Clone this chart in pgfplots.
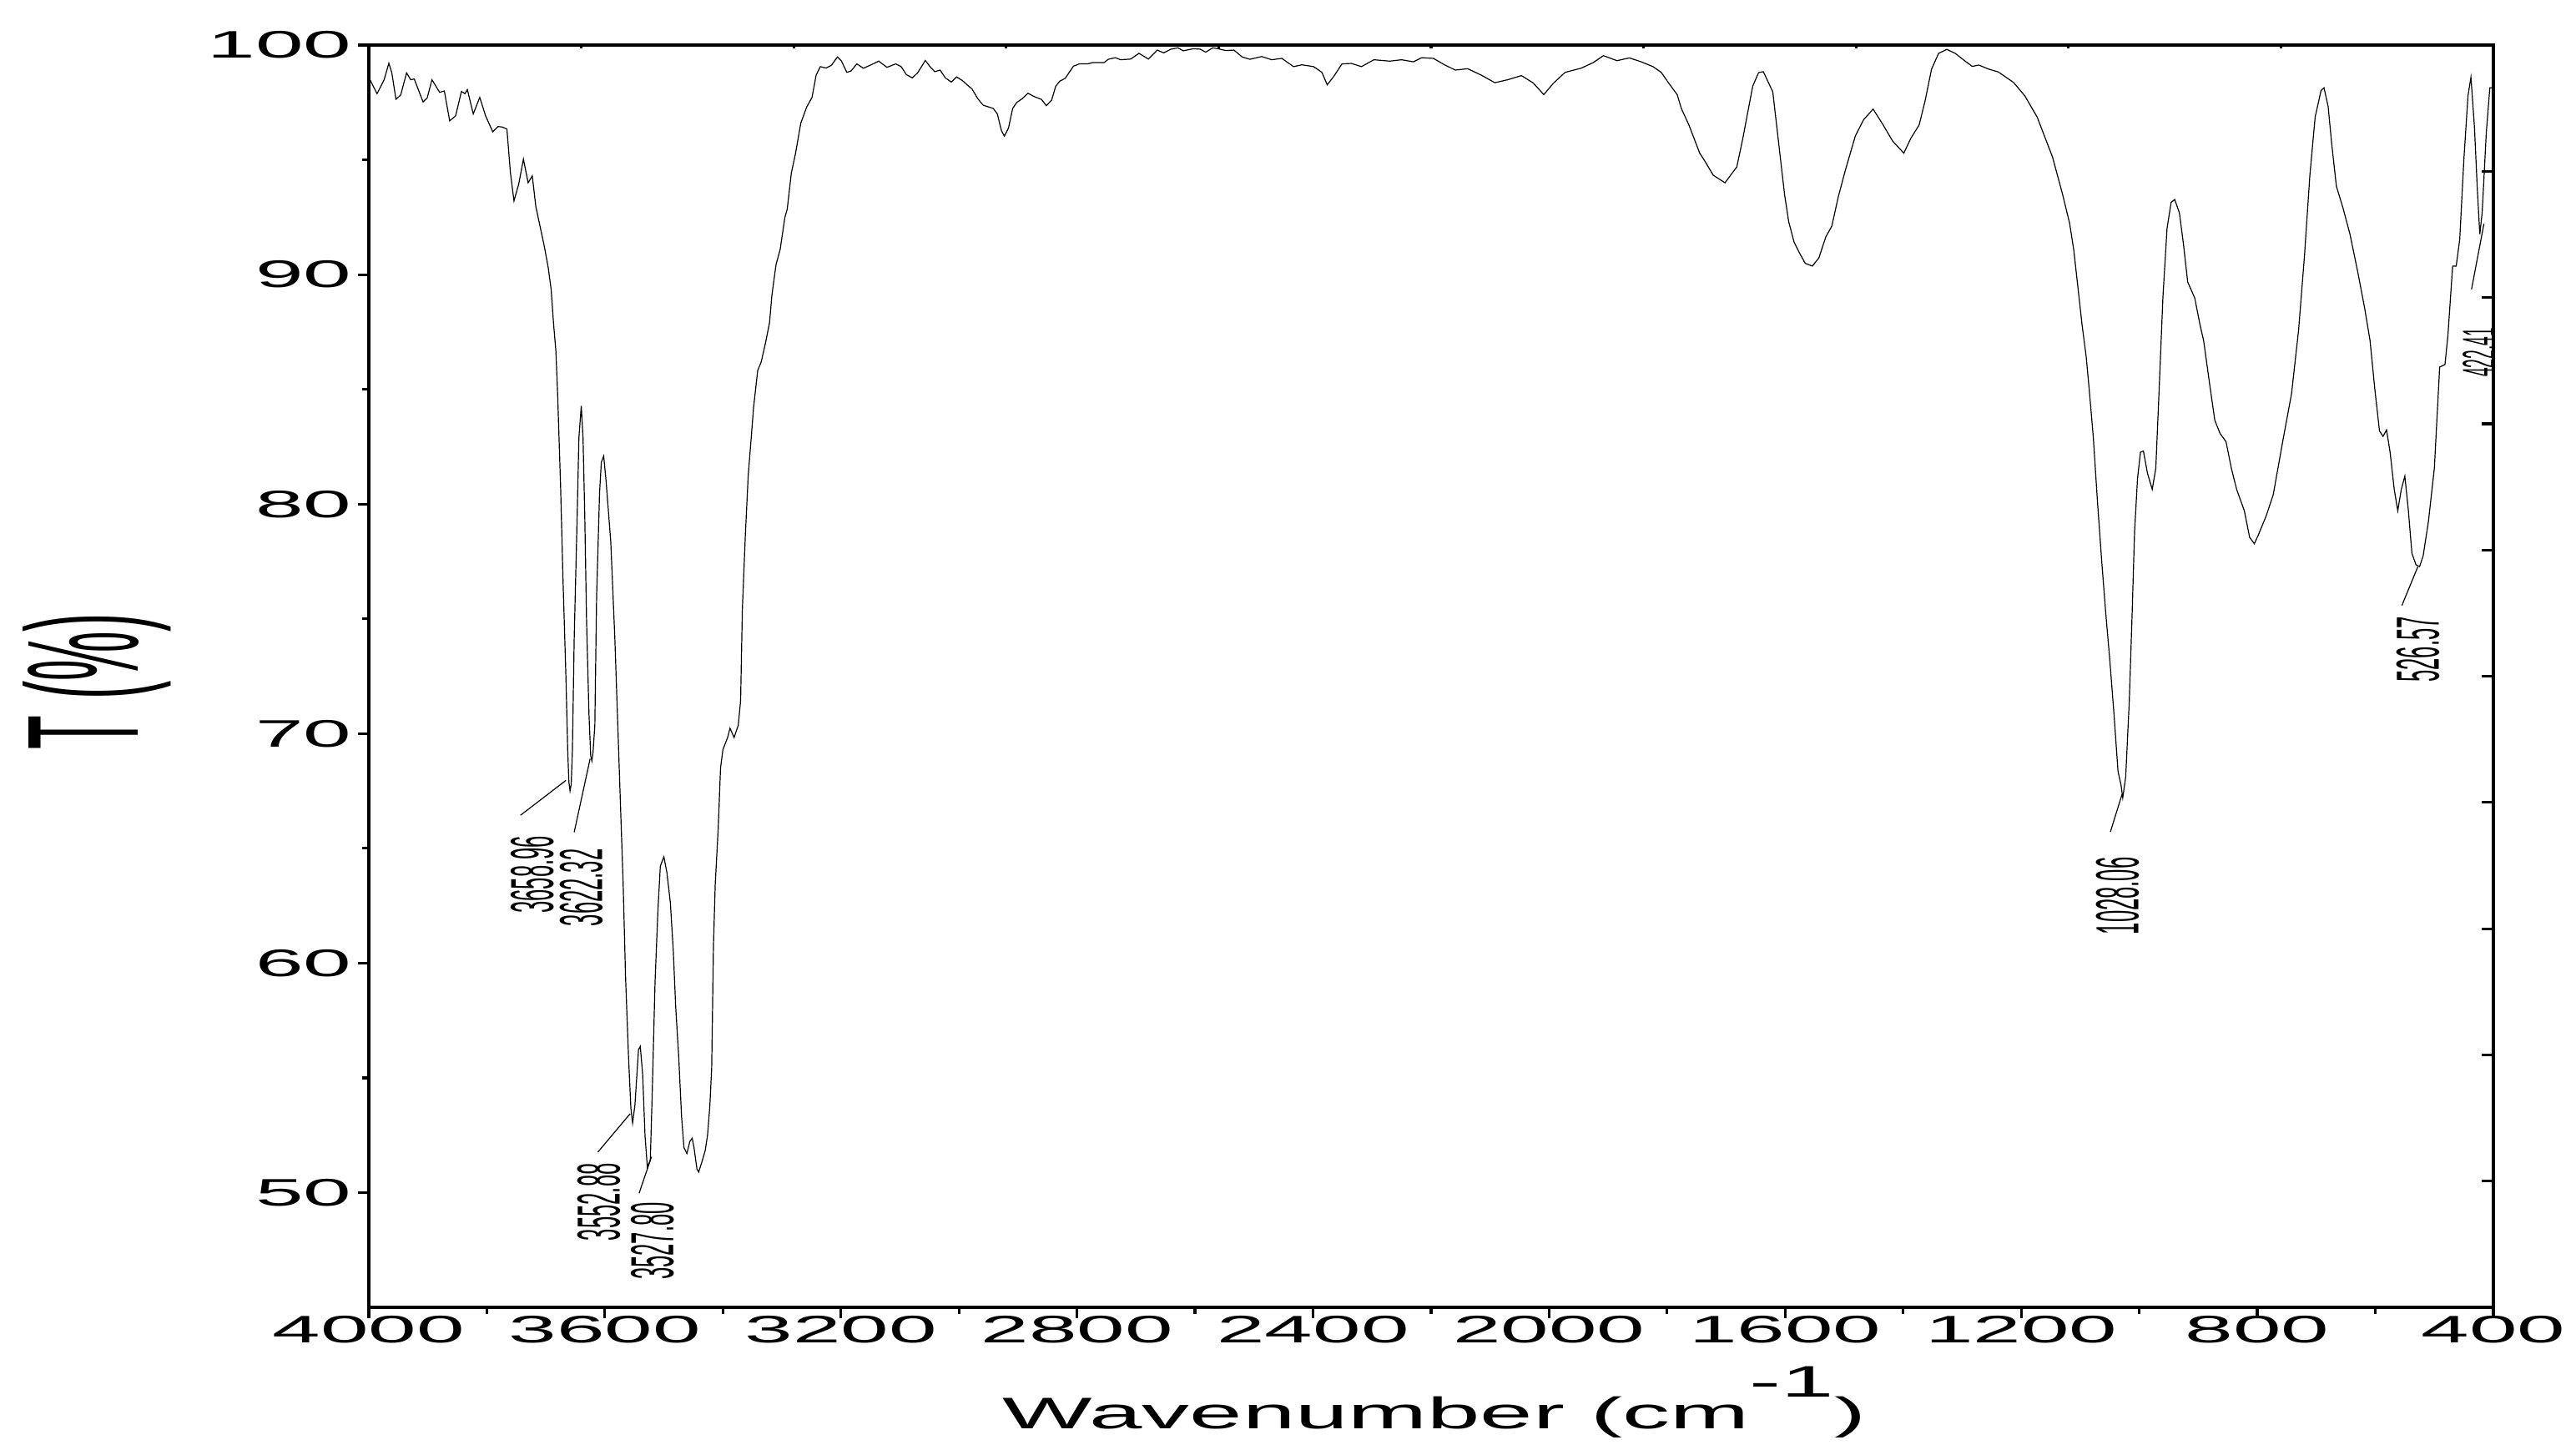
\documentclass[border=0pt]{standalone}
\usepackage{pgfplots}
\pgfplotsset{compat=1.18}
\usepackage{fontspec}
\setmainfont{Liberation Sans}
\usepackage{graphicx}
\newcommand{\tl}[1]{\scalebox{2.25}[1]{#1}}
\newcommand{\pk}[1]{\scalebox{1}[2.85]{\fontsize{6.4}{7}\selectfont #1}}
\newcommand{\pks}[1]{\scalebox{1}[2.85]{\fontsize{4.8}{5.5}\selectfont #1}}
\begin{document}
\begin{tikzpicture}
\useasboundingbox (0,0) rectangle (771.75pt,434.25pt);
\pgfplotsset{frame/.style={at={(110.5pt,42.5pt)}, anchor=south west,
  scale only axis, width=636.5pt, height=378.25pt,
  xmin=400, xmax=4000, ymin=45, ymax=100, x dir=reverse,
  axis line style={line width=0.8pt}, tick style={line width=0.8pt, black}}}
% top ticks (inside)
\begin{axis}[frame, xtick={400,760,...,4000}, xticklabels={}, ytick=\empty,
  xtick pos=right, tick align=inside, major tick length=1pt]
\end{axis}
% right ticks (inside)
\begin{axis}[frame, ytick={45,50.5,56,61.5,67,72.5,78,83.5,89,94.5,100}, yticklabels={}, xtick=\empty,
  ytick pos=right, tick align=inside, major tick length=3.5pt]
\end{axis}
\begin{axis}[frame,
  xtick={400,800,...,4000},
  xticklabels={\tl{400},\tl{800},\tl{1200},\tl{1600},\tl{2000},\tl{2400},\tl{2800},\tl{3200},\tl{3600},\tl{4000}},
  minor xtick={600,1000,...,3800},
  ytick={50,60,...,100},
  yticklabels={\tl{50},\tl{60},\tl{70},\tl{80},\tl{90},\tl{100}},
  minor ytick={55,65,...,95},
  xtick pos=left, ytick pos=left, tick align=outside,
  major tick length=3.2pt, minor tick length=2pt,
  ticklabel style={font=\fontsize{11.5}{12}\selectfont, inner sep=0pt},
  xticklabel shift=-0.9pt, yticklabel shift=1.8pt,
  xlabel={\scalebox{2.15}[1]{Wavenumber (cm\raisebox{9.5pt}{-1})}},
  xlabel style={at={(axis description cs:0.5016,-0.0965)}, anchor=base, font=\fontsize{13.25}{14}\selectfont, inner sep=0pt},
  ylabel={\scalebox{1}[2.85]{T (\%)}},
  ylabel style={at={(axis description cs:-0.128,0.496)}, anchor=center, font=\fontsize{16.7}{18}\selectfont, inner sep=0pt},
]
\addplot[black, line width=0.3pt] table {
x y
4000 98.6
3998 98.49
3986 97.88
3974 98.49
3966 99.21
3961 98.79
3954 97.64
3946 97.82
3936 98.79
3929 98.49
3923 98.52
3908 97.52
3901 97.70
3893 98.49
3880 97.94
3872 98.00
3863 96.70
3853 96.91
3843 97.98
3837 97.88
3833 98.06
3823 97.00
3812 97.72
3802 96.91
3790 96.22
3781 96.45
3774 96.43
3766 96.34
3760 94.43
3754 93.21
3746 93.94
3738 95.03
3730 94.00
3723 94.30
3717 92.97
3710 92.12
3703 91.28
3696 90.31
3691 89.34
3687 87.88
3683 86.67
3680 84.76
3675 80.76
3671 76.76
3666 72.49
3663 69.30
3661 67.9
3659 67.5
3657 67.8
3655 69.30
3652 74.09
3647 79.42
3644 82.89
3640 84.28
3637 82.89
3634 79.42
3631 74.89
3627 70.90
3624 69.03
3622 68.81
3620 69.2
3617 70.36
3614 75.96
3609 80.49
3606 81.82
3602 82.09
3598 81.02
3590 78.36
3583 74.09
3576 68.76
3569 63.43
3565 59.43
3560 55.97
3556 53.70
3553 53.03
3549 53.83
3543 56.23
3540 56.37
3536 55.17
3532 52.50
3528 51.10
3523 51.43
3520 54.10
3515 59.16
3510 62.36
3506 64.23
3500 64.63
3495 63.96
3489 62.63
3484 60.50
3480 58.10
3475 55.97
3470 53.30
3466 51.96
3461 51.70
3456 52.23
3452 52.37
3449 51.97
3444 51.03
3441 50.90
3436 51.30
3430 51.83
3426 52.50
3422 53.83
3419 55.43
3416 60.76
3413 63.43
3408 65.83
3404 68.50
3400 69.30
3392 69.83
3388 70.23
3381 69.83
3374 70.36
3370 71.43
3367 75.43
3362 78.63
3357 81.29
3352 82.89
3348 84.22
3341 85.82
3335 86.2
3328 87.0
3321 87.9
3317 89.09
3310 90.43
3303 91.09
3295 92.49
3291 92.85
3284 94.43
3277 95.27
3268 96.6
3258 97.30
3249 97.72
3242 98.69
3235 99.06
3225 99.00
3216 99.12
3206 99.48
3199 99.30
3190 98.81
3183 98.87
3173 99.18
3162 98.99
3148 99.15
3136 99.30
3122 99.03
3107 99.18
3098 99.06
3089 98.71
3079 98.57
3070 98.79
3057 99.33
3049 99.06
3041 98.84
3032 98.91
3023 98.57
3013 98.39
3004 98.61
2994 98.45
2985 98.24
2978 98.09
2968 97.66
2959 97.38
2942 97.24
2935 97.00
2928 96.27
2923 96.03
2916 96.39
2909 97.24
2902 97.50
2893 97.66
2883 97.90
2872 97.75
2860 97.63
2852 97.36
2843 97.60
2836 98.21
2829 98.43
2820 98.55
2806 99.08
2796 99.18
2782 99.18
2773 99.24
2754 99.24
2747 99.38
2735 99.45
2726 99.36
2709 99.39
2695 99.64
2679 99.39
2664 99.78
2653 99.66
2641 99.82
2629 99.88
2620 99.75
2603 99.84
2591 99.82
2582 99.69
2570 99.88
2561 99.84
2548 99.76
2534 99.78
2520 99.48
2507 99.38
2487 99.50
2470 99.36
2453 99.42
2433 99.06
2419 99.14
2399 99.06
2385 98.81
2376 98.27
2365 98.63
2351 99.18
2335 99.20
2318 99.06
2297 99.36
2270 99.30
2250 99.36
2230 99.27
2216 99.45
2196 99.42
2178 99.15
2159 98.91
2138 98.97
2115 98.69
2092 98.36
2070 98.49
2047 98.67
2027 98.35
2009 97.84
1993 98.33
1973 98.81
1946 98.99
1925 99.24
1908 99.54
1885 99.32
1864 99.44
1844 99.27
1824 99.06
1810 98.81
1797 98.33
1783 97.84
1776 97.24
1763 96.51
1745 95.30
1736 94.94
1722 94.33
1702 94.00
1682 94.69
1672 95.90
1655 98.21
1645 98.80
1637 98.84
1621 97.96
1601 93.48
1594 92.30
1585 91.42
1576 90.95
1566 90.49
1554 90.37
1543 90.72
1531 91.65
1521 92.11
1510 93.39
1498 94.55
1481 96.05
1467 96.75
1451 97.21
1434 96.52
1418 95.82
1399 95.29
1387 95.94
1373 96.52
1363 97.56
1352 98.95
1340 99.64
1326 99.81
1312 99.64
1295 99.30
1283 99.07
1272 99.13
1255 98.95
1239 98.83
1213 98.37
1194 97.79
1173 96.86
1147 95.12
1130 93.50
1118 92.23
1111 91.07
1104 89.45
1097 87.82
1090 86.43
1085 85.04
1078 82.95
1071 80.17
1064 77.63
1057 75.31
1050 73.22
1043 70.90
1036 68.35
1031 67.77
1028 67.20
1023 68.12
1017 71.37
1012 75.31
1008 78.78
1003 81.10
998 82.26
993 82.31
986 81.33
978 80.64
972 81.56
967 84.58
960 88.98
953 92.00
946 93.15
940 93.27
932 92.69
925 91.30
918 89.68
906 88.98
897 87.80
891 87.13
881 85.27
872 83.65
863 83.07
853 82.72
844 81.56
835 80.64
822 79.71
813 78.55
805 78.27
798 78.67
785 79.48
773 80.41
757 82.72
742 84.81
730 87.59
720 90.84
711 94.31
702 96.86
692 98.02
687 98.14
680 97.33
674 95.71
666 93.85
655 92.92
643 91.76
630 90.14
618 88.52
609 87.13
601 85.04
593 83.19
587 82.95
581 83.23
575 82.26
568 80.64
562 79.71
556 80.64
550 81.22
544 79.71
538 77.85
531 77.35
525 77.28
519 77.74
510 79.25
500 81.56
491 85.97
482 86.08
477 87.36
469 90.37
463 90.37
457 91.53
450 95.01
443 97.79
438 98.60
432 96.40
427 93.62
423 91.76
419 92.69
412 96.17
406 98.14
400 98.14
};
% peak annotations
\draw[line width=0.3pt] (axis cs:3666,67.96) -- (axis cs:3743,66.44);
\draw[line width=0.3pt] (axis cs:3625,68.9) -- (axis cs:3652,65.7);
\draw[line width=0.3pt] (axis cs:3557,53.44) -- (axis cs:3612,51.76);
\draw[line width=0.3pt] (axis cs:3521,51.56) -- (axis cs:3542,49.97);
\draw[line width=0.3pt] (axis cs:1029,67.37) -- (axis cs:1049,65.71);
\draw[line width=0.3pt] (axis cs:528,77.27) -- (axis cs:555,75.58);
\draw[line width=0.3pt] (axis cs:416,92.21) -- (axis cs:437,89.36);
\node[rotate=90, anchor=east, inner sep=0pt] at (axis cs:3723,65.57) {\pk{3658.96}};
\node[rotate=90, anchor=east, inner sep=0pt] at (axis cs:3640,65.0) {\pk{3622.32}};
\node[rotate=90, anchor=east, inner sep=0pt] at (axis cs:3610.5,51.3) {\pk{3552.88}};
\node[rotate=90, anchor=east, inner sep=0pt] at (axis cs:3519.7,49.6) {\pk{3527.80}};
\node[rotate=90, anchor=east, inner sep=0pt] at (axis cs:1037,64.64) {\pk{1028.06}};
\node[rotate=90, anchor=east, inner sep=0pt] at (axis cs:528,75.12) {\pk{526.57}};
\node[rotate=90, anchor=east, inner sep=0pt] at (axis cs:425,87.7) {\pks{422.41}};
\end{axis}
\end{tikzpicture}
\end{document}
